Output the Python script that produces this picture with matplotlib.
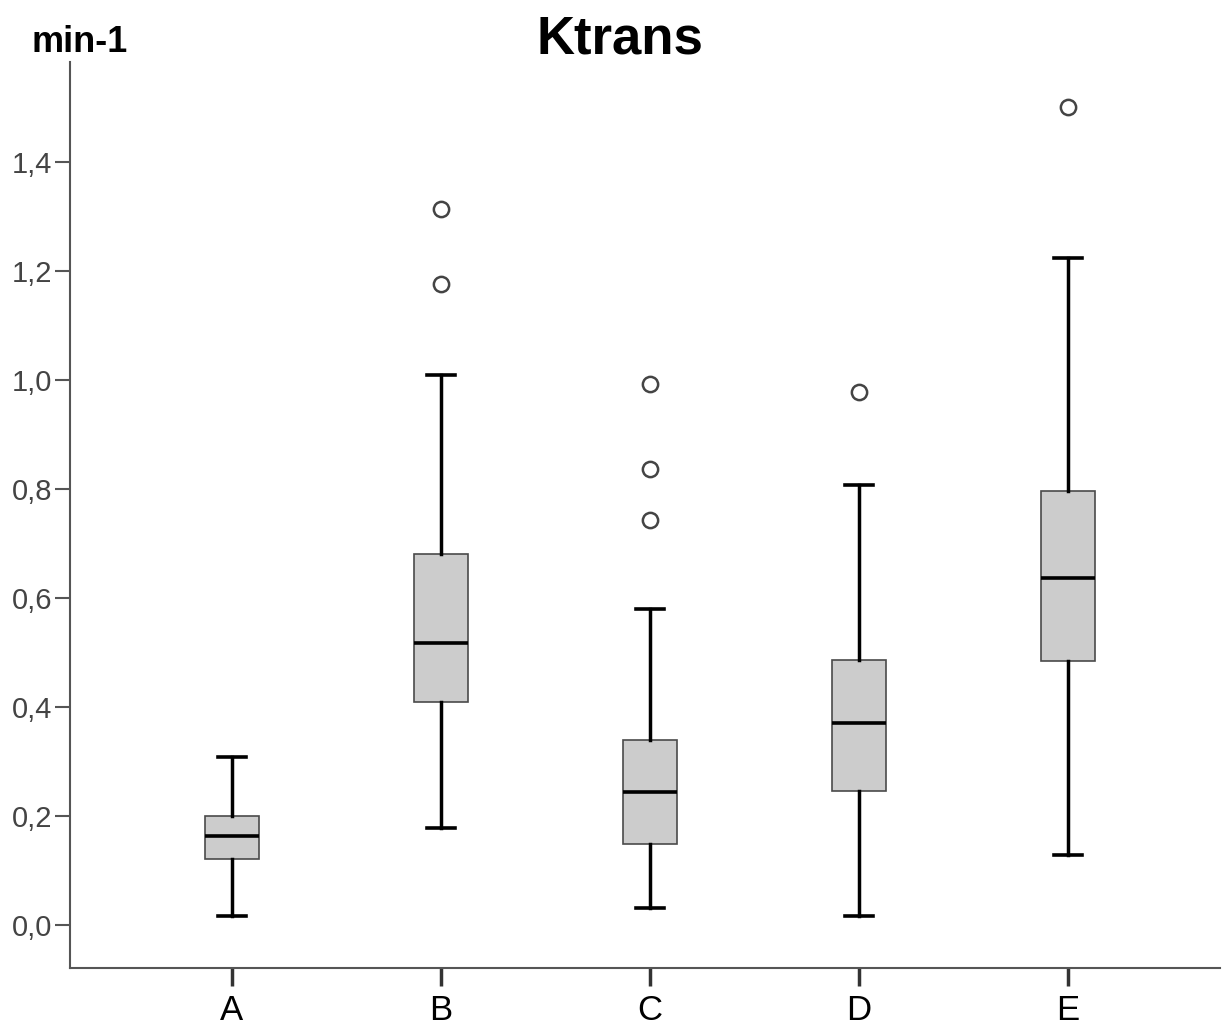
import matplotlib.pyplot as plt

plt.rcParams['font.family'] = ['Liberation Sans', 'DejaVu Sans']

groups = ['A', 'B', 'C', 'D', 'E']
whislo = [0.016, 0.178, 0.031, 0.016, 0.128]
q1 = [0.121, 0.409, 0.149, 0.246, 0.484]
med = [0.163, 0.517, 0.244, 0.371, 0.637]
q3 = [0.200, 0.681, 0.339, 0.486, 0.796]
whishi = [0.308, 1.009, 0.580, 0.807, 1.224]
fliers = [[], [1.176, 1.314], [0.743, 0.837, 0.993], [0.978], [1.501]]

yticks = [0.0, 0.2, 0.4, 0.6, 0.8, 1.0, 1.2, 1.4]

stats = []
for i, g in enumerate(groups):
    stats.append({'label': g, 'whislo': whislo[i], 'q1': q1[i], 'med': med[i],
                  'q3': q3[i], 'whishi': whishi[i], 'fliers': fliers[i]})

fig = plt.figure(figsize=(12.23, 10.29), dpi=100)
ax = fig.add_axes([0.0572, 0.0593, 0.9403, 0.8804])

ax.bxp(stats, positions=range(1, 6), widths=0.26, capwidths=0.134,
       patch_artist=True,
       boxprops=dict(facecolor='#cccccc', edgecolor='#4a4a4a', linewidth=1.2),
       medianprops=dict(color='black', linewidth=2.6),
       whiskerprops=dict(color='black', linewidth=2.5),
       capprops=dict(color='black', linewidth=2.6),
       flierprops=dict(marker='o', markersize=11, markerfacecolor='white',
                       markeredgecolor='#444444', markeredgewidth=1.8))

ax.set_xlim(0.225, 5.727)
ax.set_ylim(-0.079, 1.583)
ax.set_yticks(yticks)
ax.set_yticklabels([f'{v:.1f}'.replace('.', ',') for v in yticks],
                   fontsize=21, color='#444444')
ax.set_xticks(range(1, 6))
ax.set_xticklabels(groups, fontsize=25, color='black')

for s in ['top', 'right']:
    ax.spines[s].set_visible(False)
for s in ['left', 'bottom']:
    ax.spines[s].set_color('#555555')
    ax.spines[s].set_linewidth(1.5)

ax.tick_params(axis='y', length=11, width=1.5, color='#555555', pad=2)
ax.tick_params(axis='x', length=13, width=2.5, color='#333333', pad=6)

fig.text(0.507, 0.962, 'Ktrans', fontsize=38, fontweight='bold',
         ha='center', va='center')
fig.text(0.026, 0.9495, 'min-1', fontsize=26, fontweight='bold',
         ha='left', va='baseline')

fig.savefig('out.png', dpi=100)
